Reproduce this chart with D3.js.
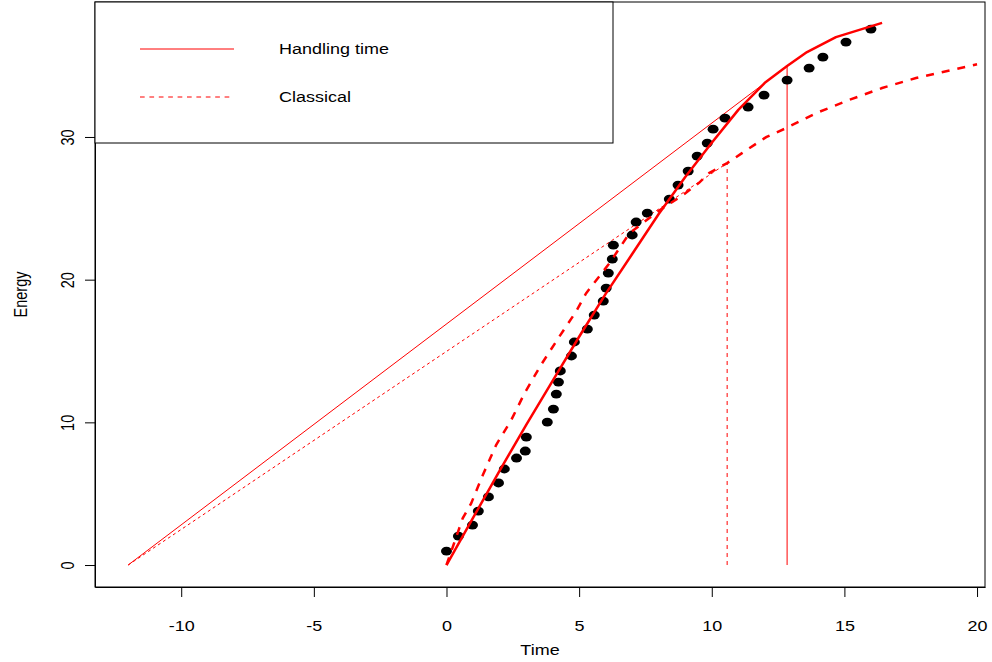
<!DOCTYPE html>
<html>
<head>
<meta charset="utf-8">
<script src="https://cdn.jsdelivr.net/npm/d3@7"></script>
<style>
  html, body { margin: 0; padding: 0; background: #fff; }
  svg { display: block; }
  text { font-family: "Liberation Sans", Arial, Helvetica, sans-serif; fill: #000; }
</style>
</head>
<body>
<script>
// Observed energy over time
const obsTime = [0, 0.45, 0.98, 1.2, 1.58, 1.96, 2.18, 2.64, 2.97, 3.01,
  3.8, 4.03, 4.14, 4.22, 4.29, 4.71, 4.82, 5.31, 5.57, 5.91,
  6.02, 6.1, 6.25, 6.29, 7.0, 7.15, 7.57, 8.4, 8.73, 9.11,
  9.45, 9.83, 10.05, 10.5, 11.37, 11.97, 12.84, 13.67, 14.19, 15.06, 16.0];
const obsEnergy = [0.98, 2.03, 2.8, 3.78, 4.77, 5.75, 6.73, 7.5, 7.99, 8.97,
  10.02, 10.93, 11.98, 12.82, 13.6, 14.65, 15.63, 16.54, 17.52, 18.5,
  19.41, 20.46, 21.44, 22.42, 23.13, 24.04, 24.67, 25.65, 26.63, 27.61,
  28.66, 29.57, 30.55, 31.32, 32.1, 32.94, 33.99, 34.83, 35.6, 36.65, 37.56];

// Fitted gain curve, handling-time model
const handlingTime = [0, 1, 2, 3, 4, 5, 6, 7, 8, 9, 10, 11, 12, 12.84, 13.59, 14.68, 16.42];
const handlingEnergy = [0, 3.3, 6.6, 9.8, 12.9, 16.0, 19.0, 21.8, 24.6, 27.2, 29.6, 31.9, 33.8, 34.97, 35.95, 37.0, 38.0];

// Fitted gain curve, classical model
const classicalTime = [0, 0.24, 0.61, 0.93, 1.37, 1.87, 2.44, 2.94, 3.56, 4.25, 4.88, 5.26, 6.14, 6.89,
  8.02, 8.89, 9.53, 9.9, 10.58, 11.14, 12.05, 12.8, 13.93, 15.17, 16.42, 17.7, 19.05, 20.0];
const classicalEnergy = [0, 1.28, 3.27, 4.32, 6.31, 8.41, 10.16, 12.03, 14.02, 16.0, 17.75, 19.04, 21.14, 23.24,
  24.85, 25.9, 26.8, 27.47, 28.17, 28.87, 29.99, 30.62, 31.67, 32.59, 33.43, 34.13, 34.69, 35.1];

// Marginal-value tangents from the travel-time origin to each curve
const travelOrigin = -12;
const handlingOptTime = 12.84, handlingOptEnergy = 34.97;
const classicalOptTime = 10.58, classicalOptEnergy = 28.17;

const xTicks = [-10, -5, 0, 5, 10, 15, 20];
const yTicks = [0, 10, 20, 30];
const legendLabels = ["Handling time", "Classical"];
const xTitle = "Time", yTitle = "Energy";

const W = 992, H = 662;
const SX = 1.24;           // horizontal text stretch
const FS = 14.5;           // label font size
const red = "#ff0000";

const svg = d3.select("body").append("svg").attr("width", W).attr("height", H);

const x = d3.scaleLinear().domain([-13.25, 20.3]).range([95, 985]);
const y = d3.scaleLinear().domain([-1.54, 39.46]).range([587, 2]);

function placeText(sel, cx, cy, rot) {
  sel.attr("x", 0).attr("y", 0)
    .attr("text-anchor", "middle")
    .attr("dominant-baseline", "central")
    .attr("font-size", FS)
    .attr("transform", `translate(${cx},${cy}) scale(${SX},1)` + (rot ? ` rotate(${rot})` : ""));
}

// Axes
const xAxis = svg.append("g").attr("transform", `translate(0,${y.range()[0]})`)
  .call(d3.axisBottom(x).tickValues(xTicks).tickSize(10).tickSizeOuter(0).tickFormat(d => String(d)));
xAxis.selectAll("text").each(function () {
  placeText(d3.select(this), 0, 28, 0);
});
const yAxis = svg.append("g").attr("transform", `translate(${x.range()[0]},0)`)
  .call(d3.axisLeft(y).tickValues(yTicks).tickSize(10).tickSizeOuter(0).tickFormat(d => String(d)));
yAxis.selectAll("text").each(function () {
  placeText(d3.select(this), -33, 0, -90);
});
[xAxis, yAxis].forEach(g => {
  g.selectAll("line").attr("stroke", "#000");
  g.select(".domain").attr("stroke", "#000");
});

// Plot frame
svg.append("rect")
  .attr("x", x.range()[0]).attr("y", y.range()[1])
  .attr("width", x.range()[1] - x.range()[0])
  .attr("height", y.range()[0] - y.range()[1])
  .attr("fill", "none").attr("stroke", "#000").attr("stroke-width", 1);

// Axis titles
placeText(svg.append("text").text(xTitle), (x.range()[0] + x.range()[1]) / 2, 650, 0);
placeText(svg.append("text").text(yTitle), 20, (y.range()[0] + y.range()[1]) / 2, -90);

const plot = svg.append("g");
const line = d3.line().x(d => x(d[0])).y(d => y(d[1]));

// Tangent lines
plot.append("path")
  .attr("d", line([[travelOrigin, 0], [handlingOptTime, handlingOptEnergy]]))
  .attr("fill", "none").attr("stroke", red).attr("stroke-width", 1);
plot.append("path")
  .attr("d", line([[travelOrigin, 0], [classicalOptTime, classicalOptEnergy]]))
  .attr("fill", "none").attr("stroke", red).attr("stroke-width", 1).attr("stroke-dasharray", "3,3");

// Optimal residence times
plot.append("path")
  .attr("d", line([[handlingOptTime, 0], [handlingOptTime, handlingOptEnergy]]))
  .attr("fill", "none").attr("stroke", red).attr("stroke-width", 1);
plot.append("path")
  .attr("d", line([[classicalOptTime, 0], [classicalOptTime, classicalOptEnergy]]))
  .attr("fill", "none").attr("stroke", red).attr("stroke-width", 1).attr("stroke-dasharray", "4,4");

// Observations
plot.selectAll("ellipse.obs").data(d3.zip(obsTime, obsEnergy)).join("ellipse")
  .attr("class", "obs")
  .attr("cx", d => x(d[0])).attr("cy", d => y(d[1]))
  .attr("rx", 5.5).attr("ry", 4.4).attr("fill", "#000");

// Model curves
plot.append("path")
  .attr("d", line(d3.zip(handlingTime, handlingEnergy)))
  .attr("fill", "none").attr("stroke", red).attr("stroke-width", 2.5).attr("stroke-linejoin", "round");
plot.append("path")
  .attr("d", line(d3.zip(classicalTime, classicalEnergy)))
  .attr("fill", "none").attr("stroke", red).attr("stroke-width", 2.5).attr("stroke-dasharray", "8,8");

// Legend
const lg = svg.append("g");
lg.append("rect").attr("x", 95).attr("y", 2).attr("width", 518).attr("height", 141)
  .attr("fill", "#fff").attr("stroke", "#000").attr("stroke-width", 1);
const legendDash = [null, "4.7,4.7"];
const legendY = [49, 97];
legendLabels.forEach((lab, i) => {
  lg.append("line").attr("x1", 140).attr("x2", 234).attr("y1", legendY[i]).attr("y2", legendY[i])
    .attr("stroke", red).attr("stroke-width", 1).attr("stroke-dasharray", legendDash[i]);
  const t = lg.append("text").text(lab);
  placeText(t, 0, 0, 0);
  t.attr("text-anchor", "start").attr("transform", `translate(279,${legendY[i]}) scale(${SX},1)`);
});
</script>
</body>
</html>
